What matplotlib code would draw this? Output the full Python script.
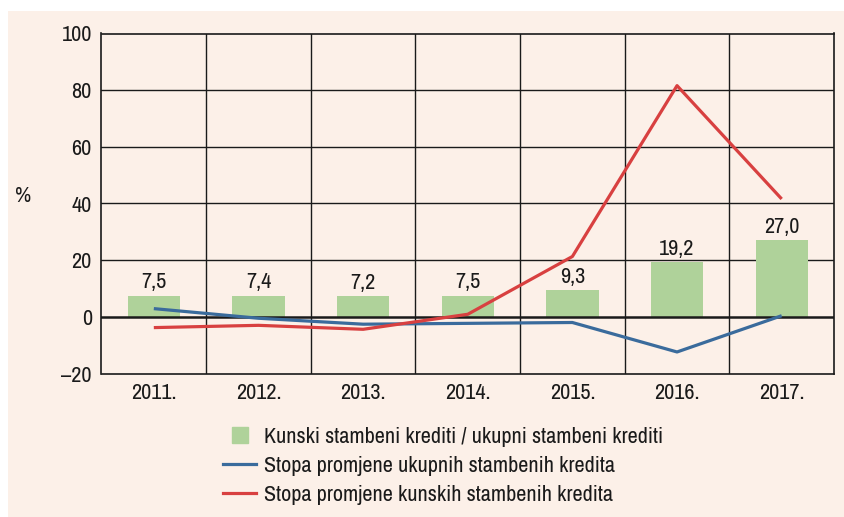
import matplotlib
matplotlib.use("Agg")
import matplotlib.pyplot as plt
from matplotlib.lines import Line2D
from matplotlib.patches import Rectangle
import numpy as np

plt.rcParams['font.family'] = ['Archivo Narrow', 'Roboto Condensed', 'Liberation Sans', 'DejaVu Sans']

years = ['2011.', '2012.', '2013.', '2014.', '2015.', '2016.', '2017.']
share_kuna = [7.5, 7.4, 7.2, 7.5, 9.3, 19.2, 27.0]
share_labels = ['7,5', '7,4', '7,2', '7,5', '9,3', '19,2', '27,0']
rate_total = [2.9, -0.5, -2.6, -2.3, -2.0, -12.4, 0.4]
rate_kuna = [-3.8, -3.0, -4.4, 0.9, 21.3, 81.6, 41.6]
yticks = [-20, 0, 20, 40, 60, 80, 100]
ytick_labels = ['\u201320', '0', '20', '40', '60', '80', '100']

legend_labels = ['Kunski stambeni krediti / ukupni stambeni krediti',
                 'Stopa promjene ukupnih stambenih kredita',
                 'Stopa promjene kunskih stambenih kredita']

BG = '#fcf0e8'
GREEN = '#afd29a'
BLUE = '#3a6b9c'
RED = '#d84040'
FS = 16
TXT = '#1a1a1a'

W, H = 845, 517
fig = plt.figure(figsize=(W / 100, H / 100), dpi=100)
fig.patch.set_facecolor('white')
fig.patches.append(Rectangle((8 / W, 0), 1 - 8 / W, 1 - 11 / H, transform=fig.transFigure,
                             facecolor=BG, edgecolor='none', zorder=-10))

ax = fig.add_axes([101.5 / W, 1 - 373.5 / H, (834 - 101.5) / W, (373.5 - 33.5) / H])
ax.set_facecolor(BG)

x = np.arange(len(years))
ax.bar(x, share_kuna, width=0.5, color=GREEN, zorder=2)
for xi, v, lab in zip(x, share_kuna, share_labels):
    ax.annotate(lab, (xi, v), xytext=(0, 2.5), textcoords='offset points',
                ha='center', va='bottom', fontsize=FS, color=TXT)

ax.plot(x, rate_total, color=BLUE, lw=2.3, zorder=4, solid_capstyle='butt')
ax.plot(x, rate_kuna, color=RED, lw=2.3, zorder=4, solid_capstyle='butt')

ax.set_xlim(-0.5, len(years) - 0.5)
ax.set_ylim(-20, 100)
ax.set_yticks(yticks)
ax.set_yticklabels(ytick_labels)
ax.set_xticks(x)
ax.set_xticklabels(years)
ax.tick_params(axis='both', length=0, labelsize=FS, colors=TXT)
ax.tick_params(axis='y', pad=7)
ax.tick_params(axis='x', pad=7)

for yv in yticks[1:-1]:
    ax.axhline(yv, color=TXT, lw=1.0 if yv != 0 else 1.8, zorder=3 if yv == 0 else 1)
for xv in np.arange(0.5, len(years) - 0.5, 1):
    ax.axvline(xv, color=TXT, lw=1.0, zorder=1)
for s in ax.spines.values():
    s.set_color(TXT)
    s.set_linewidth(1.2)

fig.text(23 / W, 1 - 196 / H, '%', fontsize=FS, color=TXT, ha='center', va='center')

handles = [Line2D([], [], ls='none', marker='s', markersize=11.5, color=GREEN),
           Line2D([], [], color=BLUE, lw=2.3),
           Line2D([], [], color=RED, lw=2.3)]
fig.legend(handles, legend_labels, loc='upper left', bbox_to_anchor=(223 / W, 1 - 427 / H),
           frameon=False, fontsize=FS, handlelength=1.5, handletextpad=0.35,
           labelspacing=0.41, borderaxespad=0, borderpad=0, labelcolor=TXT)

fig.savefig('out.png', dpi=100, facecolor=fig.get_facecolor())
